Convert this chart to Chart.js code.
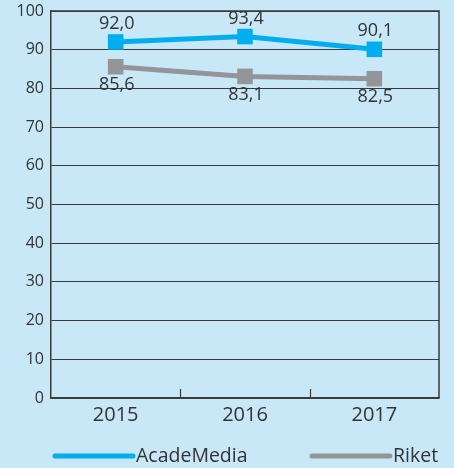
<!DOCTYPE html>
<html><head><meta charset="utf-8">
<script src="https://cdn.jsdelivr.net/npm/chart.js@4/dist/chart.umd.min.js"></script>
<style>
html,body{margin:0;padding:0;background:#c8e8f8;}
#wrap{width:454px;height:468px;position:relative;}
</style></head>
<body><div id="wrap"><canvas id="c" width="454" height="468"></canvas></div>
<script>
const categories = ['2015', '2016', '2017'];
const seriesNames = ['AcadeMedia', 'Riket'];
const academedia = [92.0, 93.4, 90.1];
const riket = [85.6, 83.1, 82.5];
const yTicks = [0, 10, 20, 30, 40, 50, 60, 70, 80, 90, 100];

const BLUE = '#00aeef';
const GRAY = '#939598';
const TEXT = '#333333';
const FONT = "'Open Sans', 'Noto Sans', sans-serif";

const fmt = v => v.toFixed(1).replace('.', ',');

const decorPlugin = {
  id: 'decor',
  afterDraw(chart) {
    const ctx = chart.ctx;
    const a = chart.chartArea;
    const xs = chart.scales.x;
    ctx.save();
    // frame
    ctx.strokeStyle = '#3a3a3a';
    ctx.lineWidth = 1.5;
    ctx.beginPath();
    ctx.moveTo(a.left, a.top); ctx.lineTo(a.right, a.top); ctx.lineTo(a.right, a.bottom);
    ctx.stroke();
    // inner category ticks
    ctx.lineWidth = 1.2;
    ctx.beginPath();
    for (let i = 0; i < categories.length - 1; i++) {
      const x = Math.round((xs.getPixelForValue(i) + xs.getPixelForValue(i + 1)) / 2) + 0.5;
      ctx.moveTo(x, a.bottom); ctx.lineTo(x, a.bottom - 9);
    }
    ctx.stroke();
    // data labels
    ctx.font = "18px " + FONT;
    ctx.fillStyle = TEXT;
    ctx.textAlign = 'center';
    ctx.textBaseline = 'middle';
    chart.data.datasets.forEach((ds, di) => {
      const meta = chart.getDatasetMeta(di);
      meta.data.forEach((pt, i) => {
        const off = di === 0 ? -18 : 18;
        ctx.fillText(fmt(ds.data[i]), pt.x + 1, pt.y + off);
      });
    });
    // legend
    const ly = 456;
    const items = [
      {name: seriesNames[0], color: BLUE, x: a.left + 2},
      {name: seriesNames[1], color: GRAY, x: a.left + 259}
    ];
    ctx.font = "19.5px " + FONT;
    ctx.textAlign = 'left';
    items.forEach(it => {
      ctx.strokeStyle = it.color;
      ctx.lineWidth = 5;
      ctx.lineCap = 'round';
      ctx.beginPath();
      ctx.moveTo(it.x + 2, ly); ctx.lineTo(it.x + 80, ly);
      ctx.stroke();
      ctx.fillStyle = TEXT;
      ctx.fillText(it.name, it.x + 83, ly);
    });
    ctx.restore();
  }
};

new Chart(document.getElementById('c'), {
  type: 'line',
  data: {
    labels: categories,
    datasets: [
      {label: seriesNames[0], data: academedia, borderColor: BLUE, backgroundColor: BLUE,
       borderWidth: 5, pointStyle: 'rect', pointRadius: 11, pointHoverRadius: 11,
       pointBorderWidth: 0, pointBackgroundColor: BLUE, tension: 0},
      {label: seriesNames[1], data: riket, borderColor: GRAY, backgroundColor: GRAY,
       borderWidth: 5, pointStyle: 'rect', pointRadius: 11, pointHoverRadius: 11,
       pointBorderWidth: 0, pointBackgroundColor: GRAY, tension: 0}
    ]
  },
  options: {
    responsive: false,
    animation: false,
    devicePixelRatio: 1,
    layout: {padding: {left: 0, right: 15, top: 10, bottom: 0}},
    plugins: {legend: {display: false}, tooltip: {enabled: false}},
    scales: {
      x: {
        offset: true,
        grid: {display: false, drawTicks: false},
        border: {display: true, color: '#3a3a3a', width: 1.5},
        ticks: {color: TEXT, font: {family: FONT, size: 20}, padding: 5},
        afterFit(s) { s.height = 70; s.paddingLeft = 0; s.paddingRight = 0; }
      },
      y: {
        min: 0, max: 100,
        afterBuildTicks(s) { s.ticks = yTicks.map(v => ({value: v})); },
        grid: {color: '#3a3a3a', lineWidth: 1, drawTicks: false},
        border: {display: true, color: '#3a3a3a', width: 1.5},
        ticks: {color: TEXT, font: {family: FONT, size: 16}, padding: 7},
        afterFit(s) { s.width = 51; s.paddingTop = 0; s.paddingBottom = 0; }
      }
    }
  },
  plugins: [decorPlugin]
});
</script></body></html>
